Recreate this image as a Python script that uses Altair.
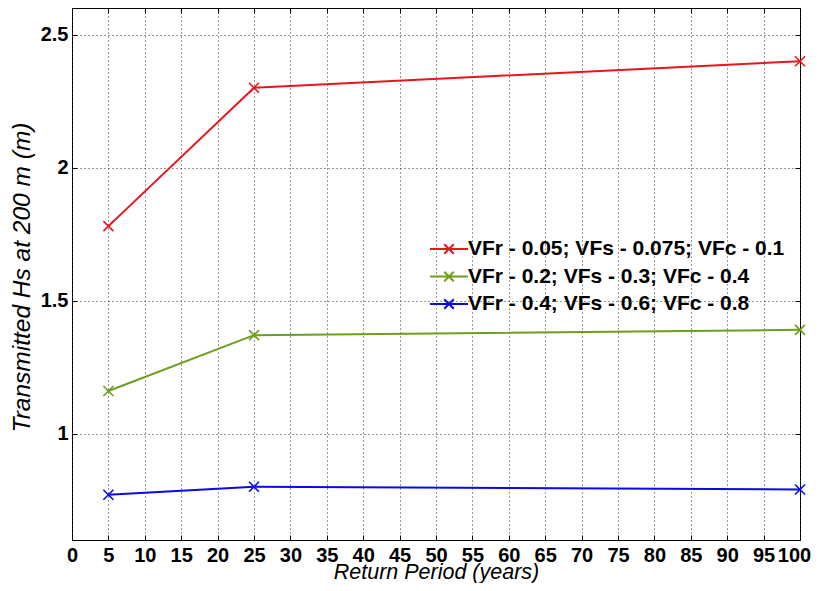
import altair as alt
import pandas as pd

# ---- data ----
return_period = [5, 25, 100]
series_names = [
    "VFr - 0.05; VFs - 0.075; VFc - 0.1",
    "VFr - 0.2; VFs - 0.3; VFc - 0.4",
    "VFr - 0.4; VFs - 0.6; VFc - 0.8",
]
hs_red = [1.78, 2.30, 2.40]
hs_green = [1.16, 1.37, 1.39]
hs_blue = [0.77, 0.80, 0.79]
x_ticks = list(range(0, 101, 5))
y_ticks = [1, 1.5, 2, 2.5]

colors = ["#e8161c", "#6e9c1e", "#0a0ae6"]
line_widths = [2, 2, 3]

rows = []
for name, vals in zip(series_names, [hs_red, hs_green, hs_blue]):
    for x, y in zip(return_period, vals):
        rows.append({"rp": x, "hs": y, "series": name})
df = pd.DataFrame(rows)

FONT = "Liberation Sans"
W, H = 728, 532

xscale = alt.Scale(domain=[0, 100], nice=False, zero=False)
yscale = alt.Scale(domain=[0.6, 2.6], nice=False, zero=False)
cscale = alt.Scale(domain=series_names, range=colors)
wscale = alt.Scale(domain=series_names, range=line_widths)

x_main = alt.Axis(
    orient="bottom", values=x_ticks, title="Return Period (years)",
    grid=True, gridDash=[1, 3], gridColor="#333333", gridWidth=1,
    domain=False, offset=-5, tickSize=5, tickColor="black", tickWidth=1,
    labelFont=FONT, labelFontSize=20, labelFontWeight="bold", labelColor="black",
    labelPadding=5, labelOverlap=False, labelBound=False, labelFlush=False,
    labelOffset={"condition": {"test": "datum.value == 100", "value": -6}, "value": 0},
    titleFont=FONT, titleFontSize=21.5, titleFontStyle="italic", titleFontWeight="normal",
    titleColor="black", titleBaseline="alphabetic", titleY=43, titleX=W / 2,
)
y_main = alt.Axis(
    orient="left", values=y_ticks, format="~g", title="Transmitted Hs at 200 m (m)",
    grid=True, gridDash=[1, 3], gridColor="#333333", gridWidth=1,
    domain=False, offset=-5, tickSize=5, tickColor="black", tickWidth=1,
    labelFont=FONT, labelFontSize=20, labelFontWeight="bold", labelColor="black",
    labelPadding=4, labelOverlap=False, labelFlush=False,
    titleFont=FONT, titleFontSize=24.5, titleFontStyle="italic", titleFontWeight="normal",
    titleColor="black", titleAngle=-90, titleBaseline="middle", titleAlign="center",
    titleX=-55, titleY=269,
)
x_top = alt.Axis(
    orient="top", values=x_ticks, labels=False, title=None, grid=False,
    domain=False, offset=-5, tickSize=5, tickColor="black", tickWidth=1,
)
y_right = alt.Axis(
    orient="right", values=y_ticks, labels=False, title=None, grid=False,
    domain=False, offset=-5, tickSize=5, tickColor="black", tickWidth=1,
)

legend = alt.Legend(
    title=None, orient="none", legendX=366.5, legendY=230.5,
    symbolType="M-2,0H2M-0.5,-0.5L0.5,0.5M-0.5,0.5L0.5,-0.5",
    symbolSize=361, symbolStrokeWidth=2, symbolFillColor="transparent",
    labelFont=FONT, labelFontSize=21, labelFontWeight="bold", labelColor="black",
    labelOffset=8.5, rowPadding=5.5, padding=0, labelLimit=0,
)

lines = alt.Chart(df).mark_line().encode(
    x=alt.X("rp:Q", scale=xscale, axis=x_main),
    y=alt.Y("hs:Q", scale=yscale, axis=y_main),
    color=alt.Color("series:N", scale=cscale, legend=legend, sort=series_names),
    strokeWidth=alt.StrokeWidth("series:N", scale=wscale, legend=None),
    detail="series:N",
)

points = alt.Chart(df).mark_point(
    shape="M-1,-1L1,1M-1,1L1,-1", filled=False, size=100, strokeWidth=1.6, opacity=1
).encode(
    x=alt.X("rp:Q", scale=xscale, axis=x_top),
    y=alt.Y("hs:Q", scale=yscale, axis=y_right),
    color=alt.Color("series:N", scale=cscale, legend=None),
)

chart = alt.layer(lines, points).properties(
    width=W, height=H,
    autosize=alt.AutoSizeParams(type="none"),
    padding={"left": 64, "top": 0, "right": 11, "bottom": 43},
    background="white",
).configure_view(stroke="black", strokeWidth=1)

chart.save("out.html", embed_options={"renderer": "svg", "actions": False})
